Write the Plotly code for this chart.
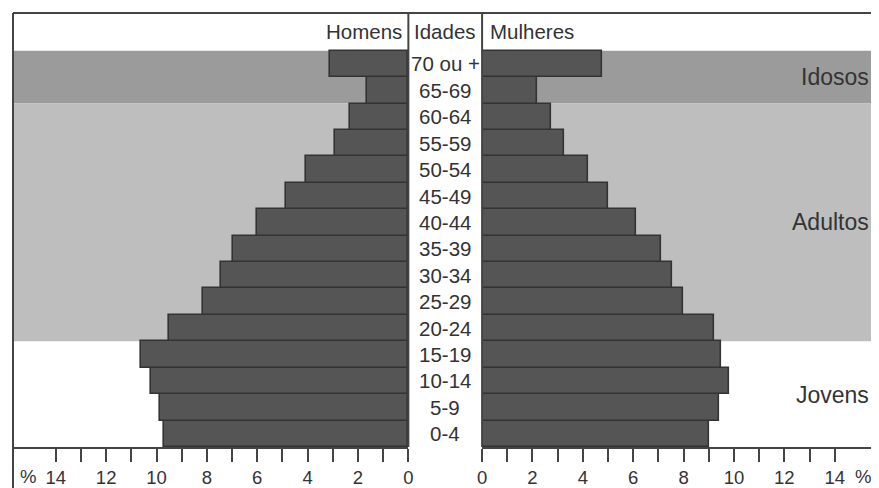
import plotly.graph_objects as go

# ---- data ----
idades = ["0-4", "5-9", "10-14", "15-19", "20-24", "25-29", "30-34", "35-39",
          "40-44", "45-49", "50-54", "55-59", "60-64", "65-69", "70 ou +"]
homens = [9.7, 9.85, 10.2, 10.6, 9.5, 8.15, 7.45, 6.95, 6.0, 4.85, 4.05, 2.9, 2.3, 1.65, 3.1]
mulheres = [9.0, 9.4, 9.8, 9.5, 9.2, 8.0, 7.55, 7.1, 6.1, 5.0, 4.2, 3.25, 2.75, 2.2, 4.75]
tick_vals = [0, 2, 4, 6, 8, 10, 12, 14]
tick_text = ["0", "2", "4", "6", "8", "10", "12", "14"]
minor_vals = [1, 3, 5, 7, 9, 11, 13]
grupos = ["Jovens", "Adultos", "Idosos"]
grupo_limites = [("15-19", "20-24"), ("60-64", "65-69")]

# the page adds an 8px body margin; work in window pixels and convert
OFF = 8
WIN_W, WIN_H = 879, 488
W, H = WIN_W - OFF, WIN_H - OFF
PLOT_L, PLOT_T, PLOT_R, PLOT_B = 9, 13, 879, 447   # window pixels
ML = PLOT_L - OFF
MT = PLOT_T - OFF
MR = WIN_W - PLOT_R
MB = WIN_H - PLOT_B
PW = PLOT_R - PLOT_L
PH = PLOT_B - PLOT_T

def px_x(px):
    return (px - PLOT_L) / PW

def px_y(py):
    return (PLOT_B - py) / PH

FONT = "Liberation Sans, Arial, sans-serif"
TXT = "#333333"
AX = "#444444"
BAR = "#555555"
BAR_LINE = "#333333"
FS_LABEL = 20.5
FS_TICK = 18.5
FS_GROUP = 23

# pixel geometry
x_left_zero = 408.5
x_right_zero = 483
px_unit = 25.45
left_dom = [0, px_x(x_left_zero)]
right_dom = [px_x(x_right_zero), 1]
left_range = [(x_left_zero - PLOT_L) / px_unit, 0]
right_range = [0, (PLOT_R - x_right_zero) / px_unit]

n = len(idades)
header_px = 37.7
cat_px = (PH - header_px) / n
y_top = n - 0.5 + header_px / cat_px

fig = go.Figure()
fig.add_trace(go.Bar(y=list(range(n)), x=homens, orientation="h", xaxis="x", yaxis="y",
                     width=1, marker=dict(color=BAR, line=dict(color=BAR_LINE, width=1.6)),
                     showlegend=False, hoverinfo="skip"))
fig.add_trace(go.Bar(y=list(range(n)), x=mulheres, orientation="h", xaxis="x2", yaxis="y",
                     width=1, marker=dict(color=BAR, line=dict(color=BAR_LINE, width=1.6)),
                     showlegend=False, hoverinfo="skip"))

i_jov_top = idades.index(grupo_limites[0][0]) + 0.5
i_adu_top = idades.index(grupo_limites[1][0]) + 0.5
shapes = [
    dict(type="rect", xref="paper", yref="y", x0=0, x1=1, y0=i_adu_top, y1=n - 0.5,
         fillcolor="#9b9b9b", line_width=0, layer="below"),
    dict(type="rect", xref="paper", yref="y", x0=0, x1=1, y0=i_jov_top, y1=i_adu_top,
         fillcolor="#bebebe", line_width=0, layer="below"),
    dict(type="rect", xref="paper", yref="paper", x0=left_dom[1], x1=right_dom[0], y0=0, y1=1,
         fillcolor="white", line_width=0, layer="below"),
    dict(type="line", xref="paper", yref="paper", x0=left_dom[1], x1=left_dom[1], y0=0, y1=1,
         line=dict(color=AX, width=2)),
    dict(type="line", xref="paper", yref="paper", x0=right_dom[0], x1=right_dom[0], y0=0, y1=1,
         line=dict(color=AX, width=2)),
    dict(type="line", xref="paper", yref="paper", x0=0, x1=1, y0=1, y1=1,
         line=dict(color=AX, width=2)),
    dict(type="line", xref="paper", yref="paper", x0=0, x1=0, y0=px_y(WIN_H), y1=1,
         line=dict(color=AX, width=2)),
]

annotations = []
mid_x = (left_dom[1] + right_dom[0]) / 2
for i, lab in enumerate(idades):
    annotations.append(dict(x=mid_x, xref="paper", y=i, yref="y",
                            text=lab, showarrow=False, xanchor="center", yanchor="middle",
                            font=dict(size=FS_LABEL, color=TXT, family=FONT)))

hdr_y = px_y(PLOT_T + header_px / 2)
annotations += [
    dict(x=px_x(404), y=hdr_y, xref="paper", yref="paper", text="Homens",
         showarrow=False, xanchor="right", yanchor="middle", font=dict(size=FS_LABEL, color=TXT, family=FONT)),
    dict(x=mid_x, y=hdr_y, xref="paper", yref="paper", text="Idades",
         showarrow=False, xanchor="center", yanchor="middle", font=dict(size=FS_LABEL, color=TXT, family=FONT)),
    dict(x=px_x(488.5), y=hdr_y, xref="paper", yref="paper", text="Mulheres",
         showarrow=False, xanchor="left", yanchor="middle", font=dict(size=FS_LABEL, color=TXT, family=FONT)),
]

grp_y = [395, 222, 77]
for g, py in zip(grupos, grp_y):
    annotations.append(dict(x=px_x(876), y=px_y(py), xref="paper", yref="paper",
                            text=g, showarrow=False, xanchor="right", yanchor="middle",
                            font=dict(size=FS_GROUP, color=TXT, family=FONT)))

pct_y = px_y(476.7)
annotations += [
    dict(x=(x_left_zero - 24) / px_unit, xref="x", y=pct_y, yref="paper", text="%",
         showarrow=False, xanchor="center", yanchor="middle", font=dict(size=FS_TICK, color=TXT, family=FONT)),
    dict(x=(868 - x_right_zero) / px_unit, xref="x2", y=pct_y, yref="paper", text="%",
         showarrow=False, xanchor="center", yanchor="middle", font=dict(size=FS_TICK, color=TXT, family=FONT)),
]

axis_common = dict(showline=True, linecolor=AX, linewidth=2, showgrid=False, zeroline=False,
                   ticks="outside", ticklen=13, tickwidth=2, tickcolor=AX,
                   tickmode="array", tickvals=tick_vals, ticktext=tick_text,
                   tickfont=dict(size=FS_TICK, color=TXT, family=FONT),
                   minor=dict(ticks="outside", ticklen=13, tickwidth=2, tickcolor=AX,
                              tickmode="array", tickvals=minor_vals, showgrid=False),
                   anchor="y", fixedrange=True)

fig.update_layout(
    width=W, height=H,
    margin=dict(l=ML, r=MR, t=MT, b=MB, pad=0),
    paper_bgcolor="white", plot_bgcolor="white",
    barmode="overlay", bargap=0,
    xaxis=dict(domain=left_dom, range=left_range, **axis_common),
    xaxis2=dict(domain=right_dom, range=right_range, **axis_common),
    yaxis=dict(range=[-0.5, y_top], showticklabels=False, showgrid=False, zeroline=False,
               showline=False, ticks="", fixedrange=True),
    shapes=shapes,
    annotations=annotations,
    font=dict(family=FONT, color=TXT),
)

fig.write_html("out.html")
